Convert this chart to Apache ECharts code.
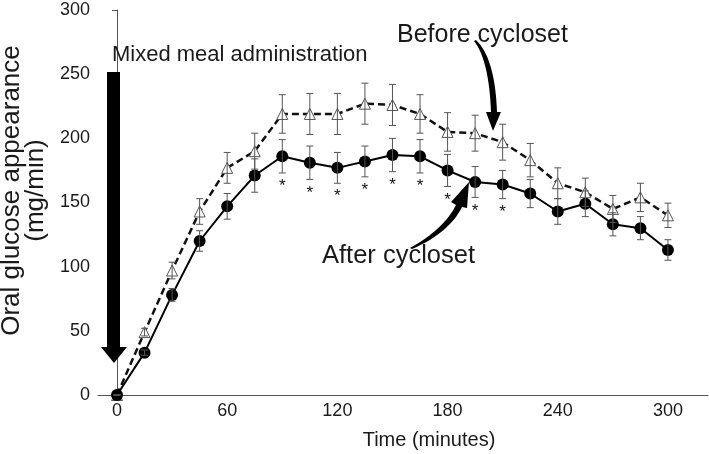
<!DOCTYPE html>
<html>
<head>
<meta charset="utf-8">
<script src="https://cdn.jsdelivr.net/npm/echarts@6/dist/echarts.min.js"></script>
<style>
html,body{margin:0;padding:0;background:#fff;}
#chart{width:709px;height:454px;}
</style>
</head>
<body>
<div id="chart"></div>
<script>
// ---- data ----
var times = [0, 15, 30, 45, 60, 75, 90, 105, 120, 135, 150, 165, 180, 195, 210, 225, 240, 255, 270, 285, 300];
var beforeCycloset = [0, 49, 97, 143, 177, 190, 219, 219, 219, 227, 226, 219, 205, 204, 197, 183, 165, 158, 145, 154, 140];
var beforeErr      = [0, 3, 6.5, 10, 12, 14, 15, 16, 16, 16, 16, 15, 15, 14, 14, 13, 12, 11, 10.5, 11, 9.5];
var afterCycloset  = [0, 33, 78, 120, 147, 171, 186, 181, 177, 182, 187, 186, 175, 166, 164, 157, 143, 149, 133, 130, 113];
var afterErr       = [0, 2, 5, 8, 10, 13, 13, 13, 12, 12, 13, 13, 12.5, 12, 11, 11, 10, 10, 9, 9, 8];
var significantTimes = [90, 105, 120, 135, 150, 165, 180, 195, 210];
var xTickLabels = [0, 60, 120, 180, 240, 300];
var yTicks = {min: 0, max: 300, step: 50};

var FONT = '"Liberation Sans", Arial, Helvetica, sans-serif';

function pairs(vals) { return times.map(function (t, i) { return [t, vals[i]]; }); }
function errData(vals, errs) { return times.map(function (t, i) { return [t, vals[i] - errs[i], vals[i] + errs[i]]; }); }
var starData = significantTimes.map(function (t) {
  var i = times.indexOf(t);
  return [t, afterCycloset[i] - afterErr[i]];
});

function errRender(params, api) {
  var lo = api.coord([api.value(0), api.value(1)]);
  var hi = api.coord([api.value(0), api.value(2)]);
  var w = 3.5;
  var st = {stroke: '#555', lineWidth: 1};
  return {
    type: 'group',
    children: [
      {type: 'line', shape: {x1: lo[0], y1: lo[1], x2: hi[0], y2: hi[1]}, style: st},
      {type: 'line', shape: {x1: lo[0] - w, y1: lo[1], x2: lo[0] + w, y2: lo[1]}, style: st},
      {type: 'line', shape: {x1: hi[0] - w, y1: hi[1], x2: hi[0] + w, y2: hi[1]}, style: st}
    ]
  };
}
function starRender(params, api) {
  var p = api.coord([api.value(0), api.value(1)]);
  return {
    type: 'text',
    style: {text: '*', x: p[0], y: p[1] + 5, textAlign: 'center', textVerticalAlign: 'top', font: '17px ' + FONT, fill: '#111'}
  };
}

// quadratic bezier sampler for curved annotation arrows
function qb(p0, c, p1, n) {
  var pts = [];
  for (var k = 0; k <= n; k++) {
    var s = k / n, u = 1 - s;
    pts.push([u * u * p0[0] + 2 * u * s * c[0] + s * s * p1[0], u * u * p0[1] + 2 * u * s * c[1] + s * s * p1[1]]);
  }
  return pts;
}
var beforeArrow = qb([474, 41], [489, 60], [491, 112], 16)
  .concat([[486, 112], [493, 131], [501, 112]], qb([497, 112], [495, 58], [476, 40], 16));
var afterArrow = qb([410, 248], [444, 229], [456, 205], 16)
  .concat([[451, 202], [469, 182], [467, 208]], qb([462, 207], [449, 233], [412, 249], 16));

var chart = echarts.init(document.getElementById('chart'), null, {renderer: 'canvas'});
chart.setOption({
  animation: false,
  backgroundColor: '#fff',
  grid: {left: 98, right: 1, top: 10, bottom: 59, containLabel: false, outerBoundsMode: 'none'},
  xAxis: {
    type: 'value', min: -10.34, max: 321.8,
    name: 'Time (minutes)', nameLocation: 'middle', nameGap: 35,
    nameTextStyle: {fontFamily: FONT, fontSize: 20, color: '#1a1a1a', padding: [0, 0, 0, 52]},
    axisLine: {show: true, lineStyle: {color: '#555', width: 1}},
    axisTick: {show: false},
    splitLine: {show: false},
    axisLabel: {customValues: xTickLabels, fontFamily: FONT, fontSize: 18, color: '#1a1a1a', margin: 7}
  },
  yAxis: {
    type: 'value', min: yTicks.min, max: yTicks.max, interval: yTicks.step,
    name: 'Oral glucose appearance\n(mg/min)', nameLocation: 'middle', nameGap: 50,
    nameTextStyle: {fontFamily: FONT, fontSize: 26, lineHeight: 24, color: '#1a1a1a', padding: [0, 0, 0, 24]},
    axisLine: {show: true, lineStyle: {color: '#555', width: 1}},
    axisTick: {show: true, length: 5, lineStyle: {color: '#555'}},
    splitLine: {show: false},
    axisLabel: {fontFamily: FONT, fontSize: 18, color: '#1a1a1a', margin: 8}
  },
  series: [
    {
      name: 'Before cycloset', type: 'line', data: pairs(beforeCycloset), z: 2,
      symbol: 'triangle', symbolSize: 11,
      lineStyle: {color: '#111', width: 2.5, type: [7, 4]},
      itemStyle: {color: '#fff', borderColor: '#555', borderWidth: 1}
    },
    {
      name: 'After cycloset', type: 'line', data: pairs(afterCycloset), z: 3,
      symbol: 'circle', symbolSize: 12,
      lineStyle: {color: '#000', width: 2},
      itemStyle: {color: '#000'}
    },
    {type: 'custom', name: 'beforeErr', data: errData(beforeCycloset, beforeErr), renderItem: errRender, z: 4, encode: {x: 0, y: [1, 2]}},
    {type: 'custom', name: 'afterErr', data: errData(afterCycloset, afterErr), renderItem: errRender, z: 4, encode: {x: 0, y: [1, 2]}},
    {type: 'custom', name: 'significance', data: starData, renderItem: starRender, z: 5, encode: {x: 0, y: 1}}
  ],
  graphic: [
    {type: 'polygon', z: 10, shape: {points: [[107, 72], [120, 72], [120, 347], [127, 347], [114, 363], [101, 347], [107, 347]]}, style: {fill: '#000'}},
    {type: 'text', z: 10, style: {text: 'Mixed meal administration', x: 112, y: 54.5, font: '22px ' + FONT, fill: '#1a1a1a', textVerticalAlign: 'middle'}},
    {type: 'text', z: 10, style: {text: 'Before cycloset', x: 397, y: 35.5, font: '25px ' + FONT, fill: '#1a1a1a', textVerticalAlign: 'middle'}},
    {type: 'text', z: 10, style: {text: 'After cycloset', x: 322, y: 256, font: '25.5px ' + FONT, fill: '#1a1a1a', textVerticalAlign: 'middle'}},
    {type: 'polygon', z: 10, shape: {points: beforeArrow}, style: {fill: '#000'}},
    {type: 'polygon', z: 10, shape: {points: afterArrow}, style: {fill: '#000'}}
  ]
});
</script>
</body>
</html>
